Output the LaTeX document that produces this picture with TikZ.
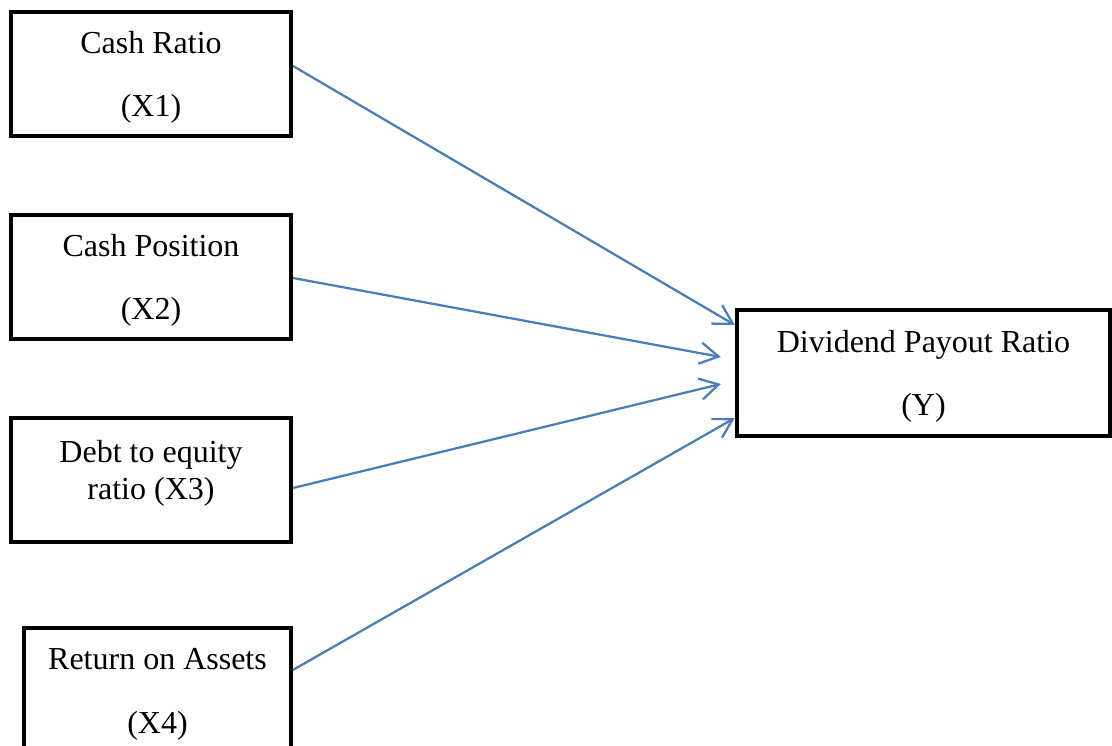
\documentclass[tikz,border=0pt]{standalone}
\usepackage{fontspec}
\setmainfont{Liberation Serif}
\usetikzlibrary{arrows.meta,calc}

\definecolor{linkblue}{RGB}{74,126,187}

\begin{document}
\begin{tikzpicture}[
        x=0.375pt, y=-0.375pt,
        varbox/.style={
            draw=black,
            line width=1.5pt,
            rectangle,
            align=center,
            inner sep=0pt,
            text depth=-1.2pt,
            minimum width=105pt,
            minimum height=46.5pt,
            font=\fontsize{12pt}{13.8pt}\selectfont},
        link/.style={
            draw=linkblue,
            line width=0.85pt,
            -{Straight Barb[length=7pt,width=8pt,line width=0.85pt]}}
        ]
        \useasboundingbox (0,0) rectangle (1112,746);
        \clip (0,0) rectangle (1112,746);

        \node[varbox] (x1) at (151,74) {Cash Ratio\\[10pt](X1)};
        \node[varbox] (x2) at (151,277) {Cash Position\\[10pt](X2)};
        \node[varbox,text depth=7.75pt] (x3) at (151,480) {Debt to equity\\ratio (X3)};
        \node[varbox,minimum width=100pt,minimum height=47.25pt] (x4) at (157.5,691) {Return on Assets\\[10pt](X4)};
        \node[varbox,minimum width=140pt,minimum height=47.25pt] (y) at (923.5,373) {Dividend Payout Ratio\\[10pt](Y)};

        \foreach \s/\sy/\ex/\ey in {% start node/start offset/end offsets
            x1/-8/0/-48,
            x2/1/-14/-16,
            x3/8/-14/11,
            x4/-21/0/45}
            \draw[link] ($(\s.east)+(0,\sy)$) -- ($(y.west)+(\ex,\ey)$);
\end{tikzpicture}
\end{document}
